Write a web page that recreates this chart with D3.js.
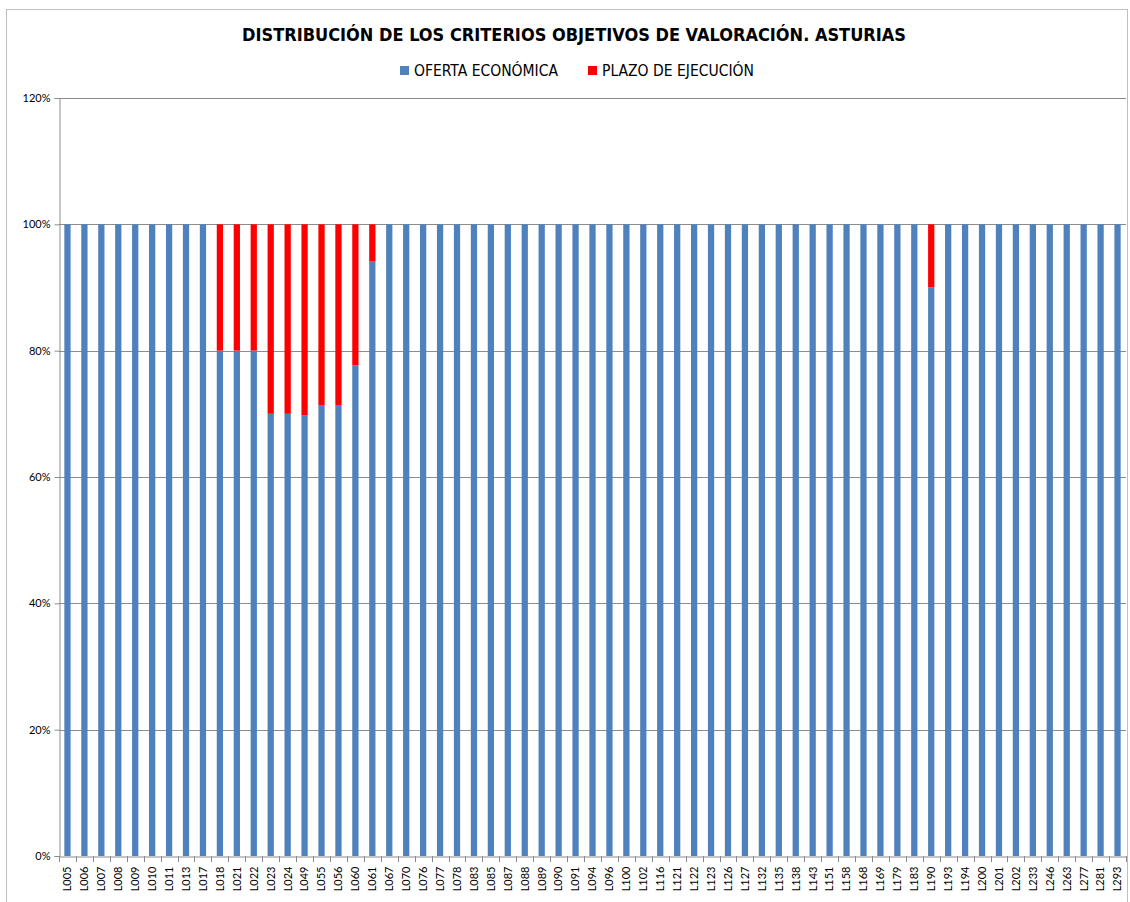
<!DOCTYPE html>
<html>
<head>
<meta charset="utf-8">
<script src="https://cdn.jsdelivr.net/npm/d3@7"></script>
<style>
  body { margin: 0; background: #fff; }
  svg { font-family: "Liberation Sans Narrow", "DejaVu Sans Condensed", Arial, sans-serif; }
</style>
</head>
<body>
<div id="chart"></div>
<script>
// data
const categories = ["L005","L006","L007","L008","L009","L010","L011","L013","L017","L018",
    "L021","L022","L023","L024","L049","L055","L056","L060","L061","L067",
    "L070","L076","L077","L078","L083","L085","L087","L088","L089","L090",
    "L091","L094","L096","L100","L102","L116","L121","L122","L123","L126",
    "L127","L132","L135","L138","L143","L151","L158","L168","L169","L179",
    "L183","L190","L193","L194","L200","L201","L202","L233","L246","L263",
    "L277","L281","L293"]

const oferta = [100,100,100,100,100,100,100,100,100,80,
    80,80,70,70,69.8,71.4,71.4,77.7,94.1,100,
    100,100,100,100,100,100,100,100,100,100,
    100,100,100,100,100,100,100,100,100,100,
    100,100,100,100,100,100,100,100,100,100,
    100,90,100,100,100,100,100,100,100,100,
    100,100,100]

const plazo = [0,0,0,0,0,0,0,0,0,20,
    20,20,30,30,30.2,28.6,28.6,22.3,5.9,0,
    0,0,0,0,0,0,0,0,0,0,
    0,0,0,0,0,0,0,0,0,0,
    0,0,0,0,0,0,0,0,0,0,
    0,10,0,0,0,0,0,0,0,0,
    0,0,0]

const seriesNames = ["OFERTA ECONÓMICA", "PLAZO DE EJECUCIÓN"]
const seriesColors = ["#4F81BD", "#FF0000"]
const yTicks = [0, 20, 40, 60, 80, 100, 120]

var width = 1130, height = 902
var margin = { top: 98, right: 4, bottom: 46, left: 59 }

var svg = d3.select("#chart")
    .append("svg")
    .attr("width", width)
    .attr("height", height)

// outer chart border
svg.append("rect")
    .attr("x", 6.5).attr("y", 9.5)
    .attr("width", 1121).attr("height", 900)
    .attr("fill", "none")
    .attr("stroke", "#bfbfbf")

svg.append("text")
    .attr("x", 574).attr("y", 41)
    .attr("text-anchor", "middle")
    .style("font-weight", "bold")
    .style("font-size", "18px")
    .text("DISTRIBUCIÓN DE LOS CRITERIOS OBJETIVOS DE VALORACIÓN. ASTURIAS")

// legend
var legendX = [400, 588]
seriesNames.forEach(function (name, i) {
    var g = svg.append("g").attr("transform", "translate(" + legendX[i] + ",66)")
    g.append("rect").attr("width", 9).attr("height", 9).attr("fill", seriesColors[i])
    g.append("text").attr("x", 14).attr("y", 10)
        .style("font-size", "15.5px").attr("fill", "#000")
        .text(name)
})

var x = d3.scaleBand()
    .domain(categories)
    .range([margin.left, width - margin.right])
    .padding(0)

var y = d3.scaleLinear()
    .domain([0, 120])
    .range([height - margin.bottom, margin.top])

// gridlines
svg.append("g")
    .selectAll("line")
    .data(yTicks.filter(function (d) { return d > 0 }))
    .enter()
    .append("line")
    .attr("x1", margin.left).attr("x2", width - margin.right)
    .attr("y1", function (d) { return Math.round(y(d)) + 0.5 })
    .attr("y2", function (d) { return Math.round(y(d)) + 0.5 })
    .attr("stroke", "#8c8c8c")

// bars
var stack = d3.stack().keys(["oferta", "plazo"])
var rows = categories.map(function (c, i) { return { cat: c, oferta: oferta[i], plazo: plazo[i] } })
var layers = stack(rows)
var barW = x.bandwidth() * 0.37

svg.append("g")
    .selectAll("g")
    .data(layers)
    .enter()
    .append("g")
    .attr("fill", function (d, i) { return seriesColors[i] })
    .selectAll("rect")
    .data(function (d) { return d })
    .enter()
    .append("rect")
    .attr("x", function (d) { return x(d.data.cat) + (x.bandwidth() - barW) / 2 })
    .attr("width", barW)
    .attr("y", function (d) { return y(d[1]) })
    .attr("height", function (d) { return y(d[0]) - y(d[1]) })

// y axis
var yAxis = svg.append("g")
    .attr("transform", "translate(" + (margin.left + 0.5) + ",0)")
    .call(d3.axisLeft(y).tickValues(yTicks).tickSize(5).tickPadding(4)
        .tickFormat(function (d) { return d + "%" }))
yAxis.selectAll("path, line").attr("stroke", "#8c8c8c")
yAxis.selectAll("text").style("font-size", "11px").attr("fill", "#000")
    .style("font-family", "Lato, 'Open Sans', sans-serif")

// x axis
var base = height - margin.bottom
var xAxis = svg.append("g")
    .attr("transform", "translate(0," + (base + 0.5) + ")")
    .call(d3.axisBottom(x).tickSize(0).tickPadding(8))
xAxis.select("path").attr("stroke", "#8c8c8c")
xAxis.selectAll("text")
    .attr("transform", "rotate(-90)")
    .attr("text-anchor", "end")
    .attr("x", -10).attr("y", 0).attr("dy", "0.35em")
    .style("font-size", "11px").attr("fill", "#000")
    .style("font-family", "Lato, 'Open Sans', sans-serif")

// tick marks between categories
svg.append("g")
    .selectAll("line")
    .data(categories.concat(["end"]))
    .enter()
    .append("line")
    .attr("x1", function (d, i) { return Math.round(margin.left + i * x.step()) + 0.5 })
    .attr("x2", function (d, i) { return Math.round(margin.left + i * x.step()) + 0.5 })
    .attr("y1", base).attr("y2", base + 6)
    .attr("stroke", "#8c8c8c")
</script>
</body>
</html>
